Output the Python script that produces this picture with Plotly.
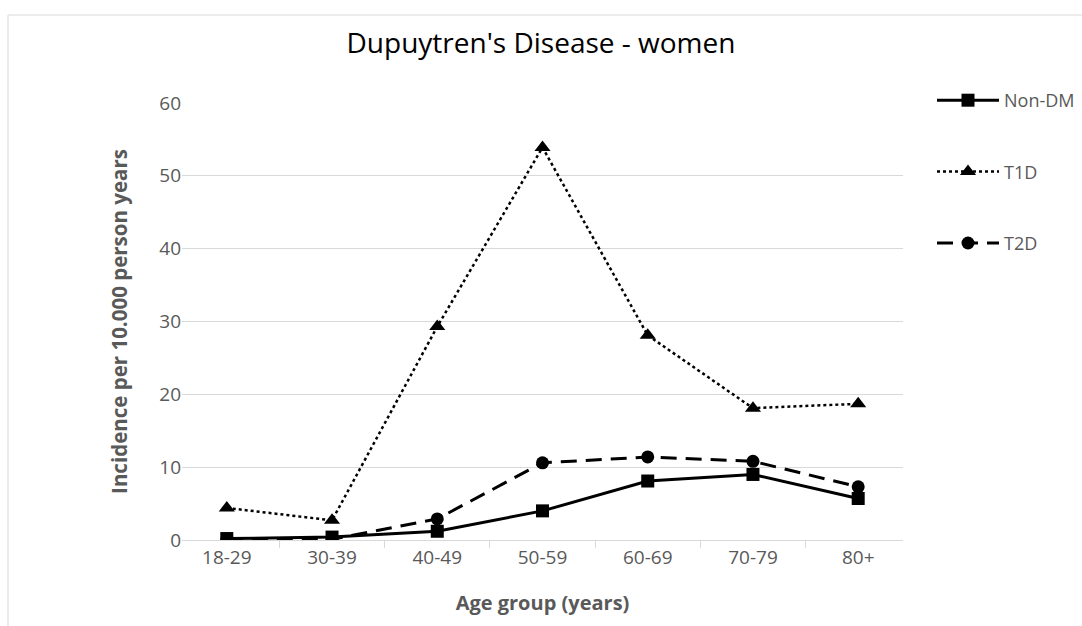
import plotly.graph_objects as go

categories = ["18-29", "30-39", "40-49", "50-59", "60-69", "70-79", "80+"]
non_dm = [0.2, 0.4, 1.2, 4.0, 8.1, 9.0, 5.7]
t1d = [4.4, 2.7, 29.3, 53.9, 28.1, 18.1, 18.7]
t2d = [0.1, 0.1, 2.9, 10.6, 11.4, 10.8, 7.3]

series = [
    ("Non-DM", non_dm, "solid", 3, "square", 13),
    ("T1D", t1d, "dot", 2.5, "triangle-up", 14),
    ("T2D", t2d, "16px,9px", 3, "circle", 13),
]

fig = go.Figure()
for i, (name, vals, dash, w, sym, ms) in enumerate(series):
    fig.add_trace(go.Scatter(
        x=categories, y=vals, name=name, mode="lines+markers",
        line=dict(color="black", width=w, dash=dash),
        marker=dict(symbol=sym, size=ms, color="black"),
        legendgroup=f"g{i}",
    ))

grey = "#595959"
fig.update_layout(
    width=1082, height=626,
    margin=dict(l=182, r=179, t=103, b=86, autoexpand=False),
    paper_bgcolor="white", plot_bgcolor="white",
    font=dict(family="Open Sans, Calibri, sans-serif", color=grey, size=18),
    title=dict(text="Dupuytren's Disease - women", x=0.5, xanchor="center",
               xref="container", yref="container",
               y=1 - 43 / 626, yanchor="middle",
               font=dict(size=28, color="black", family="Open Sans, sans-serif")),
    showlegend=True,
    legend=dict(xref="container", yref="container",
                x=932 / 1082, y=1 - 82 / 626, xanchor="left", yanchor="top",
                itemwidth=62, tracegroupgap=45, font=dict(size=18, color=grey),
                bgcolor="rgba(0,0,0,0)"),
    xaxis=dict(
        type="category", tickson="boundaries", ticks="outside", ticklen=7,
        tickcolor="#d9d9d9", showline=True, linecolor="#d9d9d9", linewidth=1,
        showgrid=False, tickfont=dict(size=19, color=grey),
        title=dict(text="<b>Age group (years)</b>", font=dict(size=20, color=grey), standoff=27),
    ),
    yaxis=dict(
        range=[0, 60], dtick=10, showgrid=True, gridcolor="#d9d9d9", gridwidth=1,
        zeroline=False, showline=False, ticks="", tickfont=dict(size=19, color=grey),
        title=dict(text="<b>Incidence per 10.000 person years</b>", font=dict(size=20.5, color=grey), standoff=26),
    ),
    shapes=[
        dict(type="line", xref="paper", yref="paper",
             x0=(8 - 182) / 721, x1=(1100 - 182) / 721,
             y0=(540 - 15) / 437, y1=(540 - 15) / 437,
             line=dict(color="#d9d9d9", width=1)),
        dict(type="line", xref="paper", yref="paper",
             x0=(8 - 182) / 721, x1=(8 - 182) / 721,
             y0=(540 - 15) / 437, y1=(540 - 640) / 437,
             line=dict(color="#d9d9d9", width=1)),
    ],
)

fig.write_html("out.html", config={"displayModeBar": False},
               post_script="document.body.style.margin='0';")
